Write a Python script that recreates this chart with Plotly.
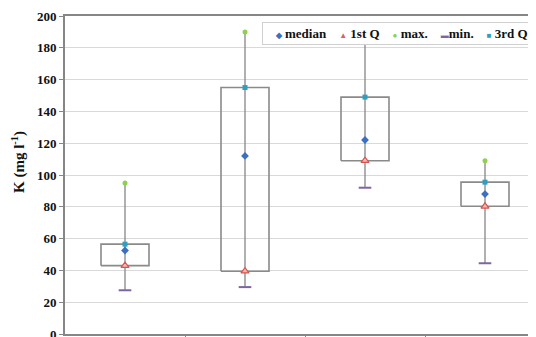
import plotly.graph_objects as go

groups = [0, 1, 2, 3]
median_vals = [52.5, 112, 122, 88]
q1_vals = [43, 39.5, 109, 80.3]
q3_vals = [56.5, 155, 149, 95.5]
max_vals = [95, 190, 187, 109]
min_vals = [27.5, 29.5, 92, 44.5]
y_ticks = list(range(0, 201, 20))

half = 0.2
box_x, box_y, wx, wy = [], [], [], []
for g, a, b, lo, hi in zip(groups, q1_vals, q3_vals, min_vals, max_vals):
    box_x += [g - half, g + half, g + half, g - half, g - half, None]
    box_y += [a, a, b, b, a, None]
    wx += [g, g, None]
    wy += [lo, hi, None]

fig = go.Figure()
fig.add_trace(go.Scatter(x=wx, y=wy, mode="lines", line=dict(color="#868686", width=1.3),
                         showlegend=False, hoverinfo="skip"))
fig.add_trace(go.Scatter(x=box_x, y=box_y, mode="lines", line=dict(color="#8a8a8a", width=1.6),
                         showlegend=False, hoverinfo="skip"))
fig.add_trace(go.Scatter(x=groups, y=median_vals, mode="markers", name="median",
                         marker=dict(symbol="diamond", size=6, color="#3d6fc0")))
fig.add_trace(go.Scatter(x=groups, y=q1_vals, mode="markers", name="1st Q",
                         marker=dict(symbol="triangle-up", size=7, color="#f2b8b0",
                                     line=dict(color="#d9534f", width=1.2))))
fig.add_trace(go.Scatter(x=groups, y=max_vals, mode="markers", name="max.",
                         marker=dict(symbol="circle", size=5, color="#8fd14f")))
fig.add_trace(go.Scatter(x=groups, y=min_vals, mode="markers", name="min.",
                         marker=dict(symbol="line-ew", size=9, line=dict(color="#8064a2", width=2))))
fig.add_trace(go.Scatter(x=groups, y=q3_vals, mode="markers", name="3rd Q",
                         marker=dict(symbol="square", size=5, color="#2f9fc0")))

serif = "Liberation Serif, Times New Roman, serif"
sp = '<span style="font-size:8px;color:{c}">{s}</span>'
legend_text = "   " + ("    ".join([
    sp.format(c="#3d6fc0", s="◆") + " median",
    sp.format(c="#e06060", s="▲") + " 1st Q",
    sp.format(c="#8fd14f", s="●") + " max.",
    sp.format(c="#8064a2", s="▬") + "min.",
    sp.format(c="#2f9fc0", s="■") + " 3rd Q",
]))

fig.add_annotation(xref="paper", yref="paper", x=0.418, y=0.981, xanchor="left", yanchor="top",
                   text=legend_text, showarrow=False, align="left",
                   font=dict(family=serif, size=13, color="#111", weight="bold"),
                   bgcolor="white", bordercolor="#d0d0d0", borderwidth=1, borderpad=3)

fig.add_annotation(xref="paper", yref="paper", x=-0.099, y=0.542, xanchor="center", yanchor="middle",
                   text="K (mg l<sup>-1</sup>)", textangle=-90, showarrow=False,
                   font=dict(family=serif, size=15, color="#111", weight="bold"))

fig.update_layout(
    width=528, height=329,
    margin=dict(l=57, r=0, t=8, b=3, autoexpand=False),
    plot_bgcolor="white", paper_bgcolor="white",
    showlegend=False,
    xaxis=dict(range=[-0.5, 3.425], tickvals=[0.5, 1.5, 2.5], showticklabels=False,
               ticks="outside", ticklen=4, tickcolor="#868686", showgrid=False, zeroline=False,
               showline=True, linecolor="#868686", linewidth=2, mirror=True, automargin=False),
    yaxis=dict(range=[0, 200], tickvals=y_ticks, ticks="outside", ticklen=4, tickcolor="#868686",
               showgrid=True, gridcolor="#d9d9d9", gridwidth=1.3, zeroline=False,
               showline=True, linecolor="#868686", linewidth=2, ticklabeloverflow="allow",
               automargin=False,
               tickfont=dict(family=serif, size=13, color="#111", weight="bold")),
)

fig.write_html("out.html")
